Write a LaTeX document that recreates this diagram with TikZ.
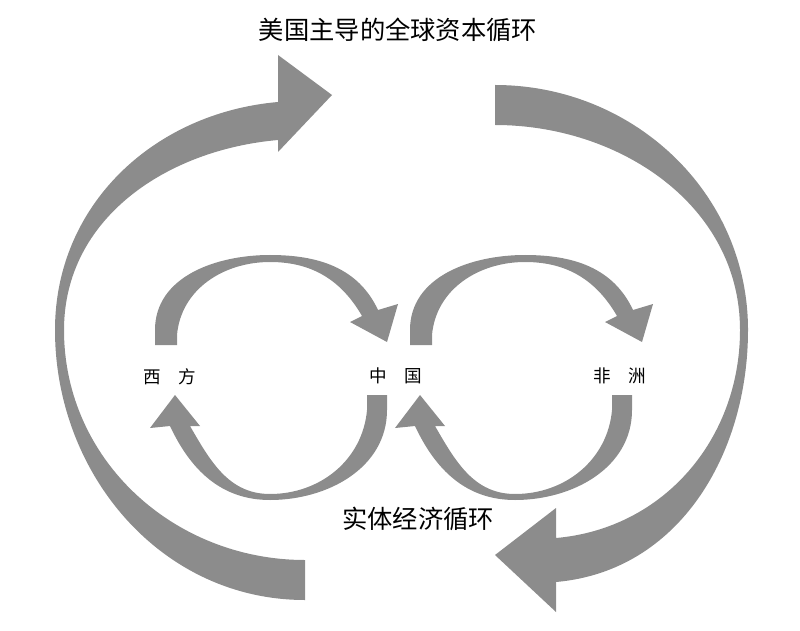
\documentclass[tikz,border=0pt]{standalone}
\usepackage{fontspec}
\newfontfamily\cjk{Noto Sans CJK SC}
\begin{document}
\begin{tikzpicture}[x=0.02cm, y=-0.02cm, flow/.style = {fill=black!45, draw=none}, place/.style = {font=\cjk\normalsize}, caption/.style = {font=\cjk\Large}]
	\useasboundingbox (0,0) rectangle (800,631);
	% big loop, left half
	\fill[flow] (305,600) to[out=180,in=-90] (55,330) to[out=90,in=185] (278,102)
		-- (278,55) -- (332,95) -- (278,152) -- (278,140)
		to[out=185,in=90] (64,330) to[out=-90,in=180] (305,560) -- cycle;
	% big loop, right half
	\fill[flow] (495,85) to[out=0,in=90] (748,330) to[out=-90,in=5] (556,582)
		-- (556,612) -- (495,555) -- (556,508) -- (556,538)
		to[out=5,in=-90] (740,330) to[out=90,in=0] (495,125) -- cycle;
	% small loops
	\foreach \dx in {0,255} {
		\begin{scope}[xshift=\dx*0.02cm]
			\fill[flow] (155,345) -- (155,330) to[out=90,in=180] (270,255) to[out=0,in=115] (378,310)
				-- (398,304) -- (387,342) -- (350,322) -- (362,316)
				to[out=120,in=0] (270,262) to[out=180,in=85] (177,335) -- (177,345) -- cycle;
		\end{scope}
	}
	\foreach \dx in {0,245} {
		\begin{scope}[xshift=\dx*0.02cm]
			\fill[flow] (387,395) -- (387,410) to[out=-90,in=0] (270,500) to[out=180,in=-65] (170,426)
				-- (150,428) -- (175,395) -- (200,426) -- (190,426)
				to[out=-60,in=180] (270,494) to[out=0,in=-95] (367,410) -- (367,395) -- cycle;
		\end{scope}
	}
	\node[caption] (global) at (398,30) {美国主导的全球资本循环};
	\node[caption] (real) at (418,519) {实体经济循环};
	\node[place] (west) at (170,377) {西\quad 方};
	\node[place] (china) at (396,376) {中\quad 国};
	\node[place] (africa) at (620,376) {非\quad 洲};
\end{tikzpicture}
\end{document}
